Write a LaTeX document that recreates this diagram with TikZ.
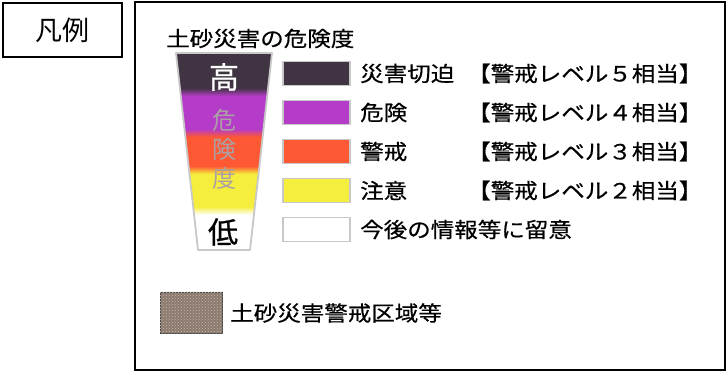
\documentclass[tikz,border=0pt]{standalone}
\usepackage{fontspec}
\setmainfont{Noto Sans CJK JP}
\newfontfamily\jp[FakeStretch=1.12, FakeBold=0.5]{Noto Sans CJK JP}
\newfontfamily\jpb[FakeBold=0.8]{Noto Sans CJK JP}
\usetikzlibrary{patterns}

\definecolor{kuro}{RGB}{64,52,66}
\definecolor{murasaki}{RGB}{181,60,200}
\definecolor{aka}{RGB}{255,88,52}
\definecolor{kiiro}{RGB}{245,238,60}
\definecolor{waku}{RGB}{200,200,200}
\definecolor{kiken}{RGB}{170,160,165}
\definecolor{dosha}{RGB}{140,122,110}
\definecolor{doshadot}{RGB}{195,182,172}

\pgfdeclareverticalshading{kikendo}{100bp}{color(0bp)=(white); color(34bp)=(white); color(36bp)=(kiiro); color(44.3bp)=(kiiro); color(46.3bp)=(aka); color(53.7bp)=(aka); color(55.7bp)=(murasaki); color(64.1bp)=(murasaki); color(66.1bp)=(kuro); color(100bp)=(kuro)}

\tikzstyle{swatch} = [draw=waku, line width=1.5pt, minimum width=67pt, minimum height=24pt, inner sep=0pt]
\tikzstyle{legtext} = [anchor=west, inner sep=0pt, font=\jp\fontsize{21}{21}\selectfont]
\tikzstyle{funnelchar} = [inner sep=0pt]

\begin{document}
\begin{tikzpicture}[x=1pt, y=-1pt]
	\useasboundingbox (0,0) rectangle (727,372);
	\node[draw, line width=1.5pt, minimum width=119pt, minimum height=54pt, font=\fontsize{27}{27}\selectfont] (hanrei) at (62.5,30) {凡例};
	\draw[line width=1.5pt] (135,2) rectangle (725,370);
	
	\node[legtext] (midashi) at (166,38.5) {土砂災害の危険度};
	
	\shade[shading=kikendo] (176,53) -- (272,53) -- (250,250) -- (198,250) -- cycle;
	\draw[waku, line width=1.8pt, line join=round] (176,53) -- (272,53) -- (250,250) -- (198,250) -- cycle;
	\node[funnelchar, text=white, font=\jpb\fontsize{30}{30}\selectfont] (taka) at (224,77) {高};
	\node[funnelchar, text=kiken, font=\fontsize{24}{24}\selectfont] (ki) at (224,120) {危};
	\node[funnelchar, text=kiken, font=\fontsize{24}{24}\selectfont] (ken) at (224,149) {険};
	\node[funnelchar, text=kiken, font=\fontsize{24}{24}\selectfont] (do) at (224,178) {度};
	\node[funnelchar, text=black, font=\jpb\fontsize{30}{30}\selectfont] (hiku) at (223,232) {低};
	
	\node[swatch, fill=kuro] (sq5) at (316.5,73.5) {};
	\node[swatch, fill=murasaki] (sq4) at (316.5,112.5) {};
	\node[swatch, fill=aka] (sq3) at (316.5,151.5) {};
	\node[swatch, fill=kiiro] (sq2) at (316.5,190.5) {};
	\node[swatch, fill=white] (sq1) at (316.5,229.5) {};
	
	\node[legtext] (lb5) at (360,73.5) {災害切迫};
	\node[legtext] (lb4) at (360,112.5) {危険};
	\node[legtext] (lb3) at (360,151.5) {警戒};
	\node[legtext] (lb2) at (360,190.5) {注意};
	\node[legtext] (lb1) at (360,229.5) {今後の情報等に留意};
	
	\node[legtext] (lv5) at (467,73.5) {【警戒レベル５相当】};
	\node[legtext] (lv4) at (467,112.5) {【警戒レベル４相当】};
	\node[legtext] (lv3) at (467,151.5) {【警戒レベル３相当】};
	\node[legtext] (lv2) at (467,190.5) {【警戒レベル２相当】};
	
	\node[draw=black!70, line width=0.8pt, fill=dosha, minimum width=62pt, minimum height=41pt, inner sep=0pt] (kuiki) at (191,312.5) {};
	\fill[pattern=crosshatch dots, pattern color=doshadot] (kuiki.north west) rectangle (kuiki.south east);
	\node[legtext] (kuikimei) at (230,313) {土砂災害警戒区域等};
\end{tikzpicture}
\end{document}
